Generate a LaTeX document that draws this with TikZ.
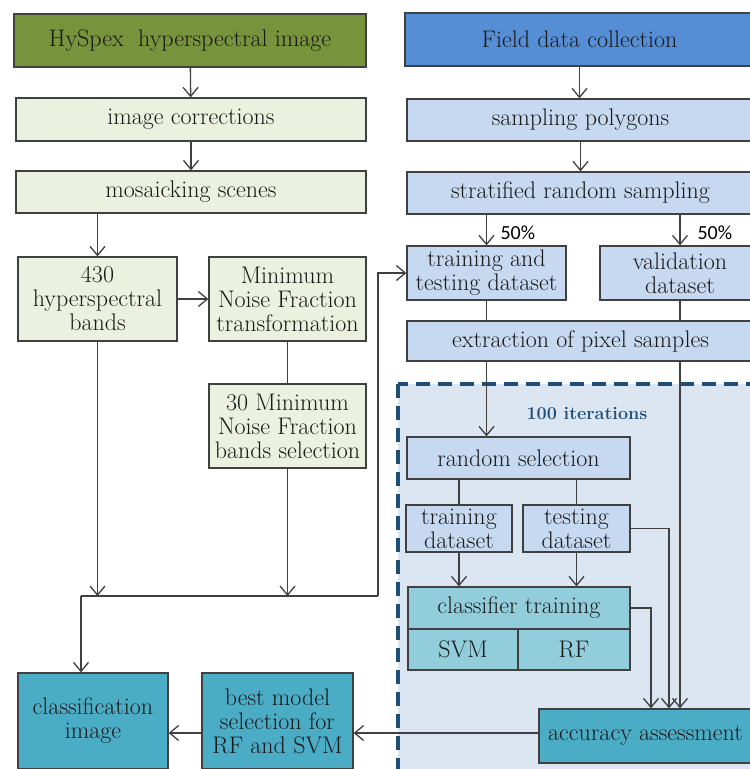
\documentclass[tikz,border=0pt]{standalone}
\usepackage{fontspec}
\newfontfamily\pctfont{Carlito}
\usetikzlibrary{arrows.meta}
\definecolor{hsgreen}{HTML}{77933C}
\definecolor{hslight}{HTML}{EBF1DE}
\definecolor{fdblue}{HTML}{558ED5}
\definecolor{fdlight}{HTML}{C6D9F1}
\definecolor{iterfill}{HTML}{DCE6F2}
\definecolor{iterline}{HTML}{1F4E79}
\definecolor{clteal}{HTML}{92CDDC}
\definecolor{resteal}{HTML}{4BACC6}
\definecolor{linegray}{HTML}{404040}
\tikzstyle{box}=[draw=linegray,line width=1.3pt,inner sep=0pt,align=center,text=black!90]
\tikzstyle{hshead}=[box,fill=hsgreen]
\tikzstyle{hsbox}=[box,fill=hslight]
\tikzstyle{fdhead}=[box,fill=fdblue]
\tikzstyle{fdbox}=[box,fill=fdlight]
\tikzstyle{clbox}=[box,fill=clteal]
\tikzstyle{resbox}=[box,fill=resteal]
\tikzstyle{link}=[draw=linegray,line width=1.3pt]
\tikzstyle{arr}=[link,-{Straight Barb[length=9pt,width=15pt]}]

\begin{document}
\begin{tikzpicture}[x=1pt, y=-1pt, font=\fontsize{24}{24}\selectfont]
	\useasboundingbox (0,0) rectangle (750,769);
	\clip (0,0) rectangle (750,769);
	%iteration frame
	\draw[iterline, fill=iterfill, line width=3.5pt, dash pattern=on 14pt off 8pt] (398,384) rectangle (790,800);
	\node[font=\bfseries\fontsize{18}{20}\selectfont, text=iterline] (iter) at (587,413) {100 iterations};
	%image branch
	\node[hshead, minimum width=352pt, minimum height=53pt] (hyspex) at (190,40.5) {HySpex\ \ hyperspectral image};
	\node[hsbox, minimum width=350pt, minimum height=43pt] (corr) at (191,119.5) {image corrections};
	\node[hsbox, minimum width=350pt, minimum height=42pt] (mosaic) at (191,192) {mosaicking scenes};
	\node[hsbox, minimum width=159pt, minimum height=84pt] (bands) at (97.5,299) {430\\hyperspectral\\bands};
	\node[hsbox, minimum width=157pt, minimum height=84pt] (mnf) at (287.5,299) {Minimum\\Noise Fraction\\transformation};
	\node[hsbox, minimum width=157pt, minimum height=84pt] (mnfsel) at (287.5,426) {30 Minimum\\Noise Fraction\\bands selection};
	%field branch
	\node[fdhead, minimum width=349pt, minimum height=53pt] (field) at (579.5,39.5) {Field data collection};
	\node[fdbox, minimum width=347pt, minimum height=42pt] (polygons) at (580.5,120) {sampling polygons};
	\node[fdbox, minimum width=347pt, minimum height=42pt] (strat) at (580.5,193) {stratified random sampling};
	\node[fdbox, minimum width=159pt, minimum height=54pt] (trainTest) at (486.5,273) {training and\\testing dataset};
	\node[fdbox, minimum width=160pt, minimum height=54pt] (valid) at (680,273) {validation\\dataset};
	\node[fdbox, minimum width=347pt, minimum height=40pt] (extract) at (580.5,341) {extraction of pixel samples};
	\node[fdbox, minimum width=223pt, minimum height=42pt] (randsel) at (518.5,458) {random selection};
	\node[fdbox, minimum width=106pt, minimum height=47pt] (train) at (459,528.5) {training\\dataset};
	\node[fdbox, minimum width=107pt, minimum height=47pt] (test) at (576.5,528.5) {testing\\dataset};
	%classifier
	\node[clbox, minimum width=222pt, minimum height=42pt] (classif) at (519,608) {classifier training};
	\node[clbox, minimum width=110pt, minimum height=41pt] (svm) at (463,649.5) {SVM};
	\node[clbox, minimum width=112pt, minimum height=41pt] (rf) at (574,649.5) {RF};
	%results
	\node[resbox, minimum width=213pt, minimum height=54pt] (accuracy) at (645.5,736) {accuracy assessment};
	\node[resbox, minimum width=151pt, minimum height=96pt] (bestmodel) at (277.5,721) {best model\\selection for\\RF and SVM};
	\node[resbox, minimum width=150pt, minimum height=96pt] (classimg) at (93,721) {classification\\image};
	%percent labels
	\node[font=\pctfont\fontsize{20}{22}\selectfont, anchor=west] (pctA) at (497,233) {50\%};
	\node[font=\pctfont\fontsize{20}{22}\selectfont, anchor=west] (pctB) at (694,233) {50\%};
	%junctions
	\coordinate (jl) at (81,596);
	\coordinate (jr) at (378,596);
	%arrows image branch
	\draw[arr] (hyspex) -- (corr);
	\draw[arr] (corr) -- (mosaic);
	\draw[arr] (bands.north |- mosaic.south) -- (bands.north);
	\draw[arr] (bands) -- (mnf);
	\draw[link] (mnf) -- (mnfsel);
	\draw[arr] (bands.south) -- (bands.south |- jl);
	\draw[arr] (mnfsel.south) -- (mnfsel.south |- jl);
	\draw[link] (jl) -- (jr);
	\draw[arr] (jl) -- (jl |- classimg.north);
	\draw[arr] (jr) |- (trainTest.west);
	%arrows field branch
	\draw[arr] (field.south) -- (field.south |- polygons.north);
	\draw[arr] (polygons) -- (strat);
	\draw[arr] (trainTest.north |- strat.south) -- (trainTest.north);
	\draw[arr] (valid.north |- strat.south) -- (valid.north);
	\draw[link] (trainTest) -- (trainTest |- extract.north);
	\draw[link] (valid) -- (valid |- extract.north);
	\draw[arr] (extract.south -| trainTest) -- (randsel.north -| trainTest);
	\draw[arr] (extract.south -| valid) -- (accuracy.north -| valid);
	\draw[link] (randsel.south -| train) -- (train);
	\draw[link] (randsel.south -| test) -- (test);
	\draw[arr] (train) -- (train |- classif.north);
	\draw[arr] (test) -- (test |- classif.north);
	\draw[arr] (test.east) -| ([xshift=23.5pt]accuracy.north);
	\draw[arr] (classif.east) -| ([xshift=5.5pt]accuracy.north);
	\draw[arr] (accuracy.west |- 0,733) -- (bestmodel.east |- 0,733);
	\draw[arr] (bestmodel.west |- 0,733) -- (classimg.east |- 0,733);
\end{tikzpicture}
\end{document}
